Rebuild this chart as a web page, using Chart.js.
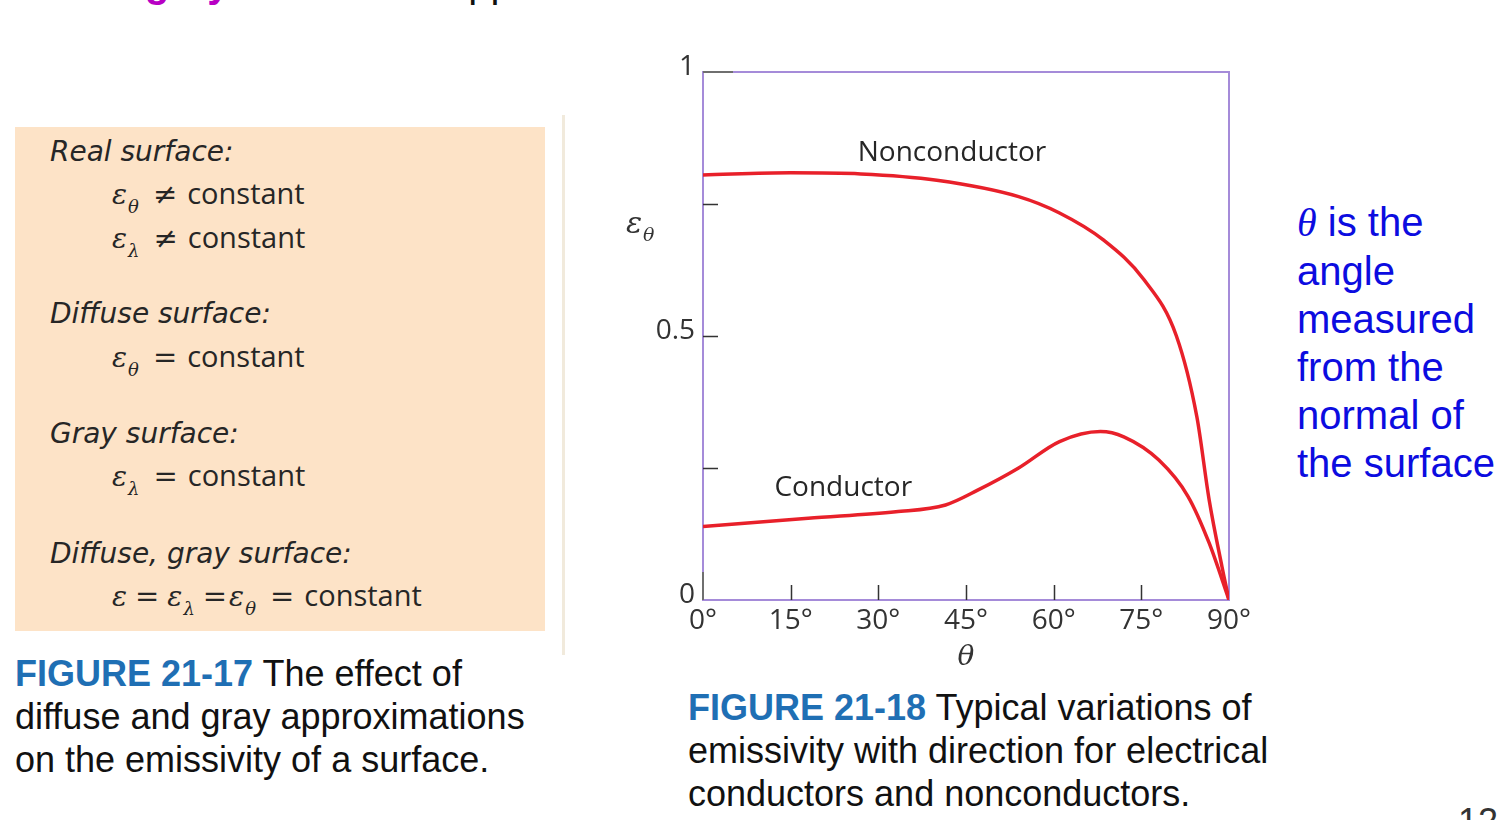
<!DOCTYPE html>
<html>
<head>
<meta charset="utf-8">
<script src="https://cdn.jsdelivr.net/npm/chart.js@4.4.1/dist/chart.umd.min.js"></script>
<style>
  html, body { margin: 0; padding: 0; background: #fff; }
  body { position: relative; width: 1506px; height: 820px; overflow: hidden; font-family: "Liberation Sans", Arial, sans-serif; }
  .abs { position: absolute; white-space: nowrap; }
  .panel { left: 15px; top: 127px; width: 530px; height: 504px; background: #fde3c7; }
  .divider { left: 562px; top: 115px; width: 3px; height: 540px; background: #f1eadc; }
  .pl { position: absolute; font-family: "Open Sans", sans-serif; font-size: 29px; line-height: 34px; color: #262626; }
  .pl.head { font-family: "DejaVu Sans", sans-serif; font-style: italic; font-size: 28px; left: 35px; margin-top: 2px; }
  .pl.eq { left: 97px; }
  .m { font-family: "DejaVu Serif", "Liberation Serif", serif; font-style: italic; font-size: 28px; }
  .s { font-family: "DejaVu Serif", "Liberation Serif", serif; font-style: italic; font-size: 18px; position: relative; top: 9px; margin-left: 1px; }
  .op { font-family: "DejaVu Serif", serif; font-size: 29px; margin: 0 10px 0 14px; }
  .caption { font-size: 36px; line-height: 43px; color: #111; }
  .caption b { color: #1f6fb4; }
  .note { left: 1297px; top: 198px; font-size: 40px; line-height: 48px; color: #0c0ce0; }
  .note i { font-family: "Liberation Serif", serif; }
  #wrap { position: absolute; left: 600px; top: 40px; width: 660px; height: 640px; }
</style>
</head>
<body>

<!-- cut-off slide heading, only descenders show -->
<div class="abs" style="left:145px; top:-41px; font-size:40px; line-height:48px; font-weight:bold; color:#b800c4;">gray</div>
<div class="abs" style="left:446px; top:-41px; font-size:40px; line-height:48px; color:#111;">approximation</div>

<!-- left panel -->
<div class="abs panel">
  <div class="pl head" style="top:6px;">Real surface:</div>
  <div class="pl eq" style="top:49px;"><span class="m">ε</span><span class="s">θ</span><span class="op">≠</span>constant</div>
  <div class="pl eq" style="top:93px;"><span class="m">ε</span><span class="s">λ</span><span class="op">≠</span>constant</div>
  <div class="pl head" style="top:168px;">Diffuse surface:</div>
  <div class="pl eq" style="top:212px;"><span class="m">ε</span><span class="s">θ</span><span class="op">=</span>constant</div>
  <div class="pl head" style="top:288px;">Gray surface:</div>
  <div class="pl eq" style="top:331px;"><span class="m">ε</span><span class="s">λ</span><span class="op">=</span>constant</div>
  <div class="pl head" style="top:408px;">Diffuse, gray surface:</div>
  <div class="pl eq" style="top:451px;"><span class="m">ε</span><span class="op" style="margin:0 8px;">=</span><span class="m">ε</span><span class="s">λ</span><span class="op" style="margin:0 2px 0 8px;">=</span><span class="m">ε</span><span class="s">θ</span><span class="op">=</span>constant</div>
</div>
<div class="abs divider"></div>

<div class="abs caption" style="left:15px; top:652px;"><b>FIGURE 21-17</b> The effect of<br>diffuse and gray approximations<br>on the emissivity of a surface.</div>

<!-- chart -->
<div id="wrap"><canvas id="chart"></canvas></div>
<div class="abs" style="left:626px; top:205px; color:#333;"><span class="m" style="font-size:30px;">ε</span><span class="s" style="font-size:19px; top:8px;">θ</span></div>

<div class="abs caption" style="left:688px; top:686px;"><b>FIGURE 21-18</b> Typical variations of<br>emissivity with direction for electrical<br>conductors and nonconductors.</div>

<div class="abs note"><i>θ</i> is the<br>angle<br>measured<br>from the<br>normal of<br>the surface</div>

<div class="abs" style="left:1458px; top:800px; font-size:36px; line-height:43px; color:#333;">12</div>

<script>
// angle ticks (degrees) and emissivity ticks
const angleTicks = [0, 15, 30, 45, 60, 75, 90];
const emissivityTicks = [0, 0.25, 0.5, 0.75, 1];
const labelledEmissivity = [0, 0.5, 1];

// Nonconductor curve
const nonconductorAngle = [0, 15, 27, 40, 54, 61, 68.5, 75.5, 81, 84.5, 86.6, 88.8, 90];
const nonconductorEps   = [0.805, 0.809, 0.807, 0.795, 0.764, 0.733, 0.682, 0.606, 0.5, 0.347, 0.19, 0.063, 0];

// Conductor curve
const conductorAngle = [0, 18, 33, 41.5, 47, 54, 61, 68, 72, 78, 83, 86.6, 90];
const conductorEps   = [0.139, 0.155, 0.167, 0.18, 0.208, 0.25, 0.30, 0.319, 0.309, 0.265, 0.196, 0.108, 0];

// curve labels: [text, angle, emissivity]
const curveLabels = [["Nonconductor", 42.6, 0.847], ["Conductor", 24, 0.212]];

const frameColor = "#a58bd9";
const curveColor = "#e8202a";

const toPoints = (xs, ys) => xs.map((a, i) => ({ x: a, y: ys[i] }));

// frame, inward ticks and curve labels
const frameAndTicks = {
    id: "frameAndTicks",
    beforeDatasetsDraw(chart) {
        const { ctx } = chart;
        const x = chart.scales.x, y = chart.scales.y;
        const l = x.getPixelForValue(0), r = x.getPixelForValue(90);
        const t = y.getPixelForValue(1), b = y.getPixelForValue(0);
        ctx.save();
        ctx.strokeStyle = frameColor;
        ctx.lineWidth = 2;
        ctx.strokeRect(l, t, r - l, b - t);
        ctx.restore();
    },
    afterDatasetsDraw(chart) {
        const { ctx } = chart;
        const x = chart.scales.x, y = chart.scales.y;
        const l = x.getPixelForValue(0);
        const t = y.getPixelForValue(1), b = y.getPixelForValue(0);
        ctx.save();
        ctx.strokeStyle = "#333";
        ctx.lineWidth = 1.5;
        ctx.beginPath();
        angleTicks.slice(1, -1).forEach(a => {
            const px = Math.round(x.getPixelForValue(a)) + 0.5;
            ctx.moveTo(px, b); ctx.lineTo(px, b - 15);
        });
        emissivityTicks.slice(1, -1).forEach(v => {
            const py = Math.round(y.getPixelForValue(v)) + 0.5;
            ctx.moveTo(l, py); ctx.lineTo(l + 15, py);
        });
        ctx.stroke();
        // grey ticks at the origin and at 1
        ctx.strokeStyle = "#6f6f6f";
        ctx.lineWidth = 2;
        ctx.beginPath();
        ctx.moveTo(l, b); ctx.lineTo(l, b - 28);
        ctx.moveTo(l, t); ctx.lineTo(l + 30, t);
        ctx.stroke();
        // curve names
        ctx.fillStyle = "#262626";
        ctx.font = "28px 'Open Sans'";
        ctx.textAlign = "center";
        ctx.textBaseline = "middle";
        curveLabels.forEach(([txt, a, v]) => {
            ctx.fillText(txt, x.getPixelForValue(a), y.getPixelForValue(v));
        });
        ctx.restore();
    }
};

Chart.defaults.font.family = "'Open Sans', sans-serif";
Chart.defaults.color = "#333";

new Chart(document.getElementById("chart").getContext("2d"), {
    type: "line",
    data: {
        datasets: [
            { label: "Nonconductor", data: toPoints(nonconductorAngle, nonconductorEps) },
            { label: "Conductor", data: toPoints(conductorAngle, conductorEps) }
        ]
    },
    options: {
        responsive: true,
        maintainAspectRatio: false,
        animation: false,
        layout: { padding: { top: 32, right: 31, left: 0, bottom: 0 } },
        elements: {
            line: { borderColor: curveColor, borderWidth: 3.5, cubicInterpolationMode: "monotone", fill: false },
            point: { radius: 0, hoverRadius: 0 }
        },
        plugins: { legend: { display: false }, tooltip: { enabled: false } },
        scales: {
            x: {
                type: "linear",
                min: 0,
                max: 90,
                afterBuildTicks: s => { s.ticks = angleTicks.map(v => ({ value: v })); },
                afterFit: s => { s.height = 80; },
                grid: { display: false, drawTicks: false },
                border: { display: false },
                ticks: { font: { size: 28 }, padding: 4, maxRotation: 0, callback: v => v + "°" },
                title: {
                    display: true,
                    text: "θ",
                    color: "#333",
                    font: { family: "'DejaVu Serif', serif", style: "italic", size: 28 },
                    padding: { top: 0, bottom: 5 }
                }
            },
            y: {
                min: 0,
                max: 1,
                afterBuildTicks: s => { s.ticks = emissivityTicks.map(v => ({ value: v })); },
                afterFit: s => { s.width = 103; },
                grid: { display: false, drawTicks: false },
                border: { display: false },
                ticks: {
                    font: { size: 28 },
                    padding: 8,
                    labelOffset: -5,
                    callback: v => labelledEmissivity.includes(v) ? String(v) : ""
                }
            }
        }
    },
    plugins: [frameAndTicks]
});
</script>
</body>
</html>
